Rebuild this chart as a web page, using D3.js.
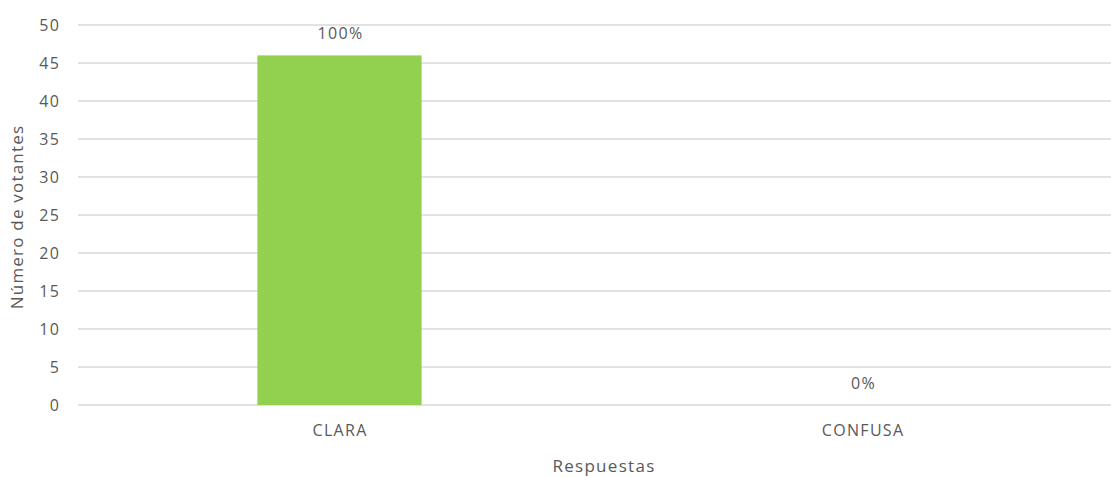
<!DOCTYPE html>
<html>
<head>
<meta charset="utf-8">
<script src="https://cdn.jsdelivr.net/npm/d3@7"></script>
<style>
  body { margin: 0; background: #fff; }
  text { font-family: "Open Sans", "Liberation Sans", sans-serif; fill: #595959; }
</style>
</head>
<body>
<div id="chart"></div>
<script>
let categories = ["CLARA", "CONFUSA"];
let votes = [46, 0];
let pctLabels = ["100%", "0%"];
let yTicks = [0, 5, 10, 15, 20, 25, 30, 35, 40, 45, 50];

let W = 1111, H = 477;
let margin = {top: 25, left: 78, bottom: 72};
let plotRight = 1124;
let baseY = H - margin.bottom;

let svg = d3.select("#chart").append("svg")
    .attr("width", W)
    .attr("height", H);

let x = d3.scaleBand()
    .domain(categories)
    .range([margin.left, plotRight])
    .paddingInner(0.686)
    .paddingOuter(0.343);

let y = d3.scaleLinear()
    .domain([0, 50])
    .range([baseY, margin.top]);

// gridlines
svg.append("g")
  .selectAll("line")
  .data(yTicks)
  .enter().append("line")
    .attr("x1", margin.left)
    .attr("x2", plotRight)
    .attr("y1", d => y(d))
    .attr("y2", d => y(d))
    .attr("stroke", "#d9d9d9")
    .attr("stroke-width", 1.5);

// y axis labels
let yAxis = d3.axisLeft(y).tickValues(yTicks).tickSize(0).tickPadding(0);
svg.append("g")
    .attr("transform", "translate(60,0)")
    .call(yAxis)
    .call(g => g.select(".domain").remove())
    .selectAll("text")
    .attr("font-size", "16px")
    .attr("letter-spacing", "1.2px")
    .attr("fill", "#595959");

// x axis labels
let xAxis = d3.axisBottom(x).tickSize(0).tickPadding(0);
svg.append("g")
    .attr("transform", "translate(0," + (baseY + 20) + ")")
    .call(xAxis)
    .call(g => g.select(".domain").remove())
    .selectAll("text")
    .attr("font-size", "16px")
    .attr("letter-spacing", "1.3px")
    .attr("dx", "0.6px")
    .attr("fill", "#595959");

svg.selectAll(".tick text").attr("font-family", "'Open Sans', 'Liberation Sans', sans-serif");

// bars
let data = categories.map((c, i) => ({cat: c, v: votes[i], lbl: pctLabels[i]}));

svg.selectAll(".bar")
  .data(data)
  .enter().append("rect")
    .attr("class", "bar")
    .attr("fill", "#92d050")
    .attr("x", d => x(d.cat))
    .attr("width", x.bandwidth())
    .attr("y", d => y(d.v))
    .attr("height", d => baseY - y(d.v));

svg.selectAll(".lbl")
  .data(data)
  .enter().append("text")
    .attr("class", "lbl")
    .attr("x", d => x(d.cat) + x.bandwidth() / 2 + 1)
    .attr("y", d => y(d.v) - 16)
    .attr("text-anchor", "middle")
    .attr("font-size", "16px")
    .attr("letter-spacing", "1.3px")
    .text(d => d.lbl);

// axis titles
svg.append("text")
    .attr("transform", "translate(23," + ((margin.top + baseY) / 2 + 2) + ") rotate(-90)")
    .attr("text-anchor", "middle")
    .attr("font-size", "17px")
    .attr("letter-spacing", "1.2px")
    .text("Número de votantes");

svg.append("text")
    .attr("x", 604)
    .attr("y", 472)
    .attr("text-anchor", "middle")
    .attr("font-size", "17px")
    .attr("letter-spacing", "1.3px")
    .text("Respuestas");
</script>
</body>
</html>
